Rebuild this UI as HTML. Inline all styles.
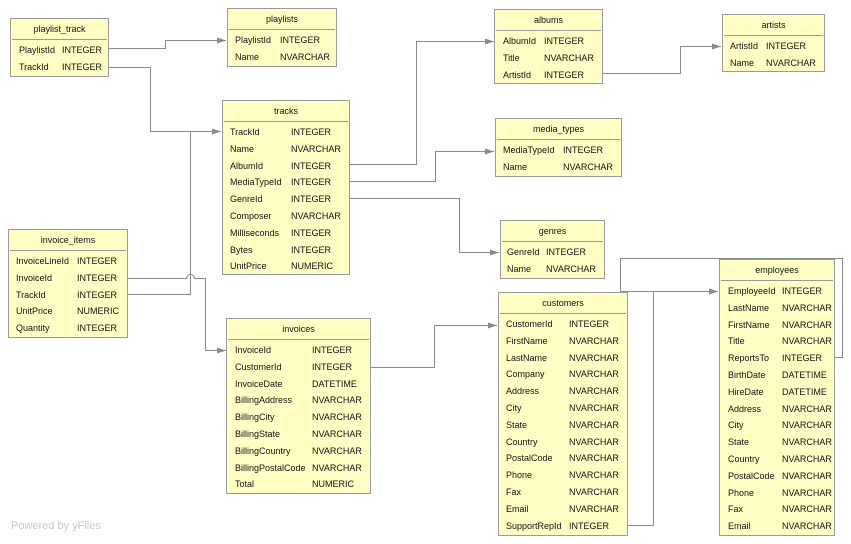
<!DOCTYPE html>
<html><head><meta charset="utf-8"><style>
body{margin:0;width:851px;height:544px;background:#fff;position:relative;overflow:hidden;font-family:"Liberation Sans","DejaVu Sans",sans-serif;font-size:9px;color:#111}
.t{position:absolute;background:#ffffc4;border:1px solid #9a9a9a;box-sizing:border-box}
.h{height:21px;line-height:21px;text-align:center;border-bottom:1px solid #9a9a9a;box-sizing:border-box;margin:0 1px}
.rs{padding-top:2px}
.r{height:16.8px;line-height:16.8px;position:relative;white-space:nowrap}
.r span{position:absolute}
svg{position:absolute;left:0;top:0}
.pw{position:absolute;left:11px;top:520px;font-size:11px;color:#c8c8c8}
</style></head><body>
<svg width="851" height="544" fill="none" stroke="#8a8a8a" stroke-width="1">
<defs><marker id="a" markerWidth="9" markerHeight="6" refX="9" refY="3" orient="auto" markerUnits="userSpaceOnUse"><path d="M0,0 L9,3 L0,6 z" fill="#8a8a8a" stroke="none"/></marker></defs>
<path d="M108.5,48.5 H165.5 V40.5 H226" marker-end="url(#a)"/>
<path d="M108.5,67.5 H150.5 V131.5 H221" marker-end="url(#a)"/>
<path d="M127.5,294.5 H190.5 V131.5"/>
<path d="M127.5,278.5 H186.5 A4,4 0 0 1 194.5,278.5 H205.5 V350.5 H226" marker-end="url(#a)"/>
<path d="M349.5,164.5 H416.5 V41.5 H494" marker-end="url(#a)"/>
<path d="M349.5,181.5 H435.5 V151.5 H494" marker-end="url(#a)"/>
<path d="M349.5,198.5 H459.5 V252.5 H499" marker-end="url(#a)"/>
<path d="M602.5,73.5 H680.5 V46.5 H721" marker-end="url(#a)"/>
<path d="M370.5,367.5 H434.5 V325.5 H497" marker-end="url(#a)"/>
<path d="M627.5,525.5 H653.5 V291.5 H718" marker-end="url(#a)"/>
<path d="M834,357.5 H842.5 V258.5 H620.5 V291.5 H718" marker-end="url(#a)"/>
</svg>

<div class="t" style="left:10px;top:18px;width:99px;height:59px"><div class="h">playlist_track</div><div class="rs">
<div class="r"><span style="left:8px">PlaylistId</span><span style="left:51px">INTEGER</span></div>
<div class="r"><span style="left:8px">TrackId</span><span style="left:51px">INTEGER</span></div></div></div>

<div class="t" style="left:227px;top:8px;width:110px;height:59px"><div class="h">playlists</div><div class="rs">
<div class="r"><span style="left:7px">PlaylistId</span><span style="left:52px">INTEGER</span></div>
<div class="r"><span style="left:7px">Name</span><span style="left:52px">NVARCHAR</span></div></div></div>

<div class="t" style="left:222px;top:100px;width:128px;height:175px"><div class="h">tracks</div><div class="rs">
<div class="r"><span style="left:7px">TrackId</span><span style="left:68px">INTEGER</span></div>
<div class="r"><span style="left:7px">Name</span><span style="left:68px">NVARCHAR</span></div>
<div class="r"><span style="left:7px">AlbumId</span><span style="left:68px">INTEGER</span></div>
<div class="r"><span style="left:7px">MediaTypeId</span><span style="left:68px">INTEGER</span></div>
<div class="r"><span style="left:7px">GenreId</span><span style="left:68px">INTEGER</span></div>
<div class="r"><span style="left:7px">Composer</span><span style="left:68px">NVARCHAR</span></div>
<div class="r"><span style="left:7px">Milliseconds</span><span style="left:68px">INTEGER</span></div>
<div class="r"><span style="left:7px">Bytes</span><span style="left:68px">INTEGER</span></div>
<div class="r"><span style="left:7px">UnitPrice</span><span style="left:68px">NUMERIC</span></div></div></div>

<div class="t" style="left:494px;top:9px;width:109px;height:75px"><div class="h">albums</div><div class="rs">
<div class="r"><span style="left:8px">AlbumId</span><span style="left:49px">INTEGER</span></div>
<div class="r"><span style="left:8px">Title</span><span style="left:49px">NVARCHAR</span></div>
<div class="r"><span style="left:8px">ArtistId</span><span style="left:49px">INTEGER</span></div></div></div>

<div class="t" style="left:722px;top:14px;width:103px;height:58px"><div class="h">artists</div><div class="rs">
<div class="r"><span style="left:7px">ArtistId</span><span style="left:43px">INTEGER</span></div>
<div class="r"><span style="left:7px">Name</span><span style="left:43px">NVARCHAR</span></div></div></div>

<div class="t" style="left:495px;top:118px;width:127px;height:59px"><div class="h">media_types</div><div class="rs">
<div class="r"><span style="left:7px">MediaTypeId</span><span style="left:67px">INTEGER</span></div>
<div class="r"><span style="left:7px">Name</span><span style="left:67px">NVARCHAR</span></div></div></div>

<div class="t" style="left:500px;top:220px;width:105px;height:59px"><div class="h">genres</div><div class="rs">
<div class="r"><span style="left:6px">GenreId</span><span style="left:45px">INTEGER</span></div>
<div class="r"><span style="left:6px">Name</span><span style="left:45px">NVARCHAR</span></div></div></div>

<div class="t" style="left:8px;top:229px;width:120px;height:109px"><div class="h">invoice_items</div><div class="rs">
<div class="r"><span style="left:7px">InvoiceLineId</span><span style="left:68px">INTEGER</span></div>
<div class="r"><span style="left:7px">InvoiceId</span><span style="left:68px">INTEGER</span></div>
<div class="r"><span style="left:7px">TrackId</span><span style="left:68px">INTEGER</span></div>
<div class="r"><span style="left:7px">UnitPrice</span><span style="left:68px">NUMERIC</span></div>
<div class="r"><span style="left:7px">Quantity</span><span style="left:68px">INTEGER</span></div></div></div>

<div class="t" style="left:226px;top:318px;width:145px;height:176px"><div class="h">invoices</div><div class="rs">
<div class="r"><span style="left:8px">InvoiceId</span><span style="left:85px">INTEGER</span></div>
<div class="r"><span style="left:8px">CustomerId</span><span style="left:85px">INTEGER</span></div>
<div class="r"><span style="left:8px">InvoiceDate</span><span style="left:85px">DATETIME</span></div>
<div class="r"><span style="left:8px">BillingAddress</span><span style="left:85px">NVARCHAR</span></div>
<div class="r"><span style="left:8px">BillingCity</span><span style="left:85px">NVARCHAR</span></div>
<div class="r"><span style="left:8px">BillingState</span><span style="left:85px">NVARCHAR</span></div>
<div class="r"><span style="left:8px">BillingCountry</span><span style="left:85px">NVARCHAR</span></div>
<div class="r"><span style="left:8px">BillingPostalCode</span><span style="left:85px">NVARCHAR</span></div>
<div class="r"><span style="left:8px">Total</span><span style="left:85px">NUMERIC</span></div></div></div>

<div class="t" style="left:498px;top:292px;width:130px;height:244px"><div class="h">customers</div><div class="rs">
<div class="r"><span style="left:7px">CustomerId</span><span style="left:70px">INTEGER</span></div>
<div class="r"><span style="left:7px">FirstName</span><span style="left:70px">NVARCHAR</span></div>
<div class="r"><span style="left:7px">LastName</span><span style="left:70px">NVARCHAR</span></div>
<div class="r"><span style="left:7px">Company</span><span style="left:70px">NVARCHAR</span></div>
<div class="r"><span style="left:7px">Address</span><span style="left:70px">NVARCHAR</span></div>
<div class="r"><span style="left:7px">City</span><span style="left:70px">NVARCHAR</span></div>
<div class="r"><span style="left:7px">State</span><span style="left:70px">NVARCHAR</span></div>
<div class="r"><span style="left:7px">Country</span><span style="left:70px">NVARCHAR</span></div>
<div class="r"><span style="left:7px">PostalCode</span><span style="left:70px">NVARCHAR</span></div>
<div class="r"><span style="left:7px">Phone</span><span style="left:70px">NVARCHAR</span></div>
<div class="r"><span style="left:7px">Fax</span><span style="left:70px">NVARCHAR</span></div>
<div class="r"><span style="left:7px">Email</span><span style="left:70px">NVARCHAR</span></div>
<div class="r"><span style="left:7px">SupportRepId</span><span style="left:70px">INTEGER</span></div></div></div>

<div class="t" style="left:719px;top:259px;width:116px;height:277px"><div class="h">employees</div><div class="rs">
<div class="r"><span style="left:8px">EmployeeId</span><span style="left:62px">INTEGER</span></div>
<div class="r"><span style="left:8px">LastName</span><span style="left:62px">NVARCHAR</span></div>
<div class="r"><span style="left:8px">FirstName</span><span style="left:62px">NVARCHAR</span></div>
<div class="r"><span style="left:8px">Title</span><span style="left:62px">NVARCHAR</span></div>
<div class="r"><span style="left:8px">ReportsTo</span><span style="left:62px">INTEGER</span></div>
<div class="r"><span style="left:8px">BirthDate</span><span style="left:62px">DATETIME</span></div>
<div class="r"><span style="left:8px">HireDate</span><span style="left:62px">DATETIME</span></div>
<div class="r"><span style="left:8px">Address</span><span style="left:62px">NVARCHAR</span></div>
<div class="r"><span style="left:8px">City</span><span style="left:62px">NVARCHAR</span></div>
<div class="r"><span style="left:8px">State</span><span style="left:62px">NVARCHAR</span></div>
<div class="r"><span style="left:8px">Country</span><span style="left:62px">NVARCHAR</span></div>
<div class="r"><span style="left:8px">PostalCode</span><span style="left:62px">NVARCHAR</span></div>
<div class="r"><span style="left:8px">Phone</span><span style="left:62px">NVARCHAR</span></div>
<div class="r"><span style="left:8px">Fax</span><span style="left:62px">NVARCHAR</span></div>
<div class="r"><span style="left:8px">Email</span><span style="left:62px">NVARCHAR</span></div></div></div>

<div class="pw">Powered by yFiles</div>
</body></html>
